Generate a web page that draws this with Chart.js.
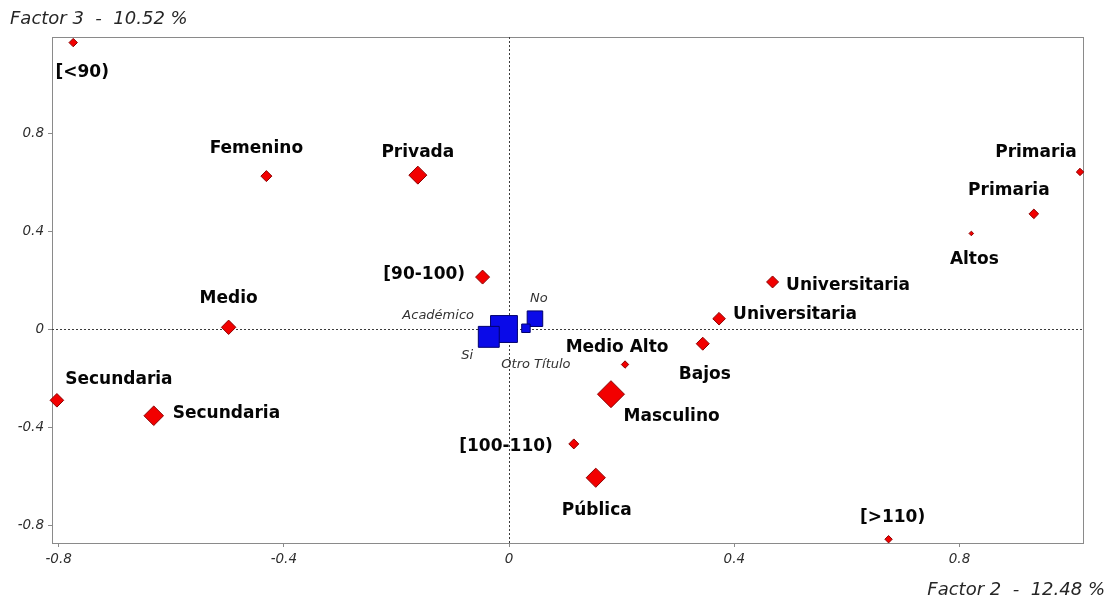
<!DOCTYPE html>
<html lang="es">
<head>
<meta charset="utf-8">
<title>Factor 2 - Factor 3</title>
<script src="https://cdn.jsdelivr.net/npm/chart.js@4.4.1/dist/chart.umd.min.js"></script>
<style>
  html, body { margin: 0; padding: 0; background: #ffffff; }
  #wrap { width: 1112px; height: 601px; }
</style>
</head>
<body>
<div id="wrap"><canvas id="plot" width="1112" height="601"></canvas></div>
<script>
// Active categories: coordinates on factor 2 (x) and factor 3 (y)
const categoryLabels = [
  '[<90)', 'Femenino', 'Privada', '[90-100)', 'Medio', 'Secundaria', 'Secundaria',
  'Medio Alto', 'Masculino', '[100-110)', 'Pública', 'Bajos', 'Universitaria',
  'Universitaria', 'Altos', 'Primaria', 'Primaria', '[>110)'
];
const categoryF2 = [
  -0.774, -0.431, -0.162, -0.047, -0.498, -0.803, -0.631,
  0.206, 0.181, 0.115, 0.154, 0.344, 0.373,
  0.468, 0.821, 0.932, 1.014, 0.674
];
const categoryF3 = [
  1.170, 0.625, 0.629, 0.213, 0.008, -0.290, -0.353,
  -0.144, -0.265, -0.468, -0.606, -0.059, 0.043,
  0.193, 0.391, 0.471, 0.642, -0.857
];

// Supplementary categories
const supplementaryLabels = ['Académico', 'Si', 'No', 'Otro Título'];
const supplementaryF2 = [-0.009, -0.036, 0.046, 0.030];
const supplementaryF3 = [0.001, -0.031, 0.043, 0.004];

// Axis ticks
const tickValues = [-0.8, -0.4, 0, 0.4, 0.8];
const xAxisTitle = 'Factor 2  -  12.48 %';
const yAxisTitle = 'Factor 3  -  10.52 %';

// Marker sizes (px) and label placement (align, dx, dy from the marker)
const categoryRadius = [4.2, 5.5, 9, 7, 7.2, 6.8, 9.8, 3.7, 13.5, 5, 9.6, 6.5, 6.3, 6, 2.3, 4.8, 3.7, 3.7];
const categoryLabelPlacement = [
  ['center', 9, 34], ['center', -10, -23], ['center', 0, -18.5], ['right', -17.5, 2],
  ['center', 0, -24.6], ['left', 8.3, -16.5], ['left', 19, 2.5], ['center', -8, -13],
  ['left', 12.6, 26.7], ['right', -21, 7.5], ['center', 1, 37], ['center', 2, 35.5],
  ['left', 14, 0.5], ['left', 13.5, 8], ['center', 3, 30.7], ['center', -25, -19],
  ['right', -3.3, -15], ['center', 4, -17.5]
];
const supplementaryRadius = [19, 14.8, 11, 6];
const supplementaryLabelPlacement = [
  ['right', -30, -9.7], ['center', -21.5, 22], ['center', 4, -16.4], ['center', 10, 40]
];

const AXIS_GREY = '#8a8a8a';
const TICK_FONT = { family: 'DejaVu Sans', size: 13.5, style: 'italic' };

const toPoints = (xs, ys) => xs.map((x, i) => ({ x: x, y: ys[i] }));

// Frame, dotted origin lines and axis titles
const framePlugin = {
  id: 'frame',
  beforeDatasetsDraw(chart) {
    const { ctx, chartArea: a, scales } = chart;
    ctx.save();
    ctx.strokeStyle = AXIS_GREY;
    ctx.lineWidth = 1;
    ctx.strokeRect(Math.round(a.left) + 0.5, Math.round(a.top) + 0.5,
                   Math.round(a.right - a.left), Math.round(a.bottom - a.top));
    const x0 = Math.round(scales.x.getPixelForValue(0)) + 0.5;
    const y0 = Math.round(scales.y.getPixelForValue(0)) + 0.5;
    ctx.strokeStyle = '#3c3c3c';
    ctx.setLineDash([2, 2]);
    ctx.beginPath();
    ctx.moveTo(x0, a.top); ctx.lineTo(x0, a.bottom);
    ctx.moveTo(a.left, y0); ctx.lineTo(a.right, y0);
    ctx.stroke();
    ctx.restore();
  },
  afterDraw(chart) {
    const { ctx, chartArea: a } = chart;
    ctx.save();
    ctx.fillStyle = '#262626';
    ctx.font = 'italic 18px "DejaVu Sans"';
    ctx.textBaseline = 'alphabetic';
    ctx.textAlign = 'left';
    ctx.fillText(yAxisTitle, a.left - 42, a.top - 13);
    ctx.textAlign = 'right';
    ctx.fillText(xAxisTitle, a.right + 22, a.bottom + 52);
    ctx.restore();
  }
};

// Text next to every marker
const pointLabelPlugin = {
  id: 'pointLabels',
  afterDatasetsDraw(chart) {
    const { ctx } = chart;
    const sets = [
      { meta: chart.getDatasetMeta(0), texts: categoryLabels, place: categoryLabelPlacement,
        font: 'bold 17px "DejaVu Sans"', color: '#050505' },
      { meta: chart.getDatasetMeta(1), texts: supplementaryLabels, place: supplementaryLabelPlacement,
        font: 'italic 13px "DejaVu Sans"', color: '#333333' }
    ];
    ctx.save();
    ctx.textBaseline = 'alphabetic';
    sets.forEach(s => {
      ctx.font = s.font;
      ctx.fillStyle = s.color;
      s.meta.data.forEach((el, i) => {
        const [align, dx, dy] = s.place[i];
        ctx.textAlign = align;
        ctx.fillText(s.texts[i], el.x + dx, el.y + dy);
      });
    });
    ctx.restore();
  }
};

const fmtTick = v => (Math.abs(v) < 1e-9 ? '0' : String(Math.round(v * 10) / 10));

new Chart(document.getElementById('plot'), {
  type: 'scatter',
  data: {
    datasets: [
      {
        label: 'Categorías',
        data: toPoints(categoryF2, categoryF3),
        pointStyle: 'rectRot',
        pointRadius: categoryRadius,
        backgroundColor: '#f20000',
        borderColor: '#8b0000',
        borderWidth: 1,
        clip: false
      },
      {
        label: 'Suplementarias',
        data: toPoints(supplementaryF2, supplementaryF3),
        pointStyle: 'rect',
        pointRadius: supplementaryRadius,
        backgroundColor: '#0a0ae8',
        borderColor: '#00006e',
        borderWidth: 1,
        clip: false
      }
    ]
  },
  options: {
    responsive: false,
    animation: false,
    devicePixelRatio: 1,
    events: [],
    layout: { padding: { left: 0, right: 29, top: 37, bottom: 0 } },
    plugins: { legend: { display: false }, tooltip: { enabled: false }, title: { display: false } },
    scales: {
      x: {
        type: 'linear',
        min: -0.8117,
        max: 1.0193,
        afterBuildTicks: s => { s.ticks = tickValues.map(v => ({ value: v })); },
        afterFit: s => { s.height = 58; },
        grid: { drawOnChartArea: false, drawTicks: true, tickLength: 4, color: AXIS_GREY },
        border: { color: AXIS_GREY, width: 1 },
        ticks: { font: TICK_FONT, color: '#2e2e2e', padding: 4, maxRotation: 0, callback: fmtTick }
      },
      y: {
        type: 'linear',
        min: -0.8724,
        max: 1.1928,
        afterBuildTicks: s => { s.ticks = tickValues.map(v => ({ value: v })); },
        afterFit: s => { s.width = 52; },
        grid: { drawOnChartArea: false, drawTicks: true, tickLength: 4, color: AXIS_GREY },
        border: { color: AXIS_GREY, width: 1 },
        ticks: { font: TICK_FONT, color: '#2e2e2e', padding: 4, callback: fmtTick }
      }
    }
  },
  plugins: [framePlugin, pointLabelPlugin]
});
</script>
</body>
</html>
